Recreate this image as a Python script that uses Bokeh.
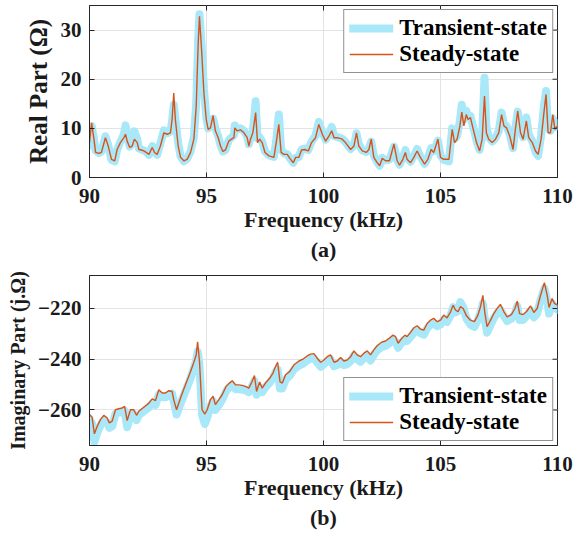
from bokeh.plotting import figure
from bokeh.layouts import column
from bokeh.models import Range1d, FixedTicker
from bokeh.embed import file_html
from bokeh.resources import INLINE

# ---------------- data ----------------
freq_a = [90.00, 90.09, 90.19, 90.26, 90.40, 90.51, 90.68, 90.80, 90.94, 91.08,
          91.18, 91.32, 91.47, 91.54, 91.61, 91.72, 91.82, 91.92, 92.04, 92.11,
          92.22, 92.32, 92.42, 92.54, 92.68, 92.78, 92.89, 93.03, 93.18, 93.32,
          93.46, 93.53, 93.60, 93.67, 93.79, 93.89, 94.03, 94.17, 94.32, 94.46,
          94.56, 94.64, 94.70, 94.79, 94.89, 94.99, 95.07, 95.17, 95.28, 95.38,
          95.50, 95.60, 95.70, 95.81, 95.95, 96.07, 96.17, 96.21, 96.31, 96.45,
          96.60, 96.74, 96.81, 96.88, 96.98, 97.10, 97.18, 97.27, 97.38, 97.50,
          97.67, 97.88, 97.98, 98.09, 98.19, 98.31, 98.45, 98.56, 98.71, 98.81,
          98.95, 99.06, 99.19, 99.35, 99.49, 99.66, 99.80, 99.95, 100.09, 100.23,
          100.35, 100.45, 100.59, 100.80, 100.94, 101.16, 101.30, 101.41, 101.51, 101.66,
          101.83, 101.94, 102.04, 102.15, 102.30, 102.40, 102.51, 102.65, 102.82, 103.01,
          103.15, 103.25, 103.39, 103.50, 103.57, 103.72, 103.86, 104.00, 104.14, 104.32,
          104.46, 104.60, 104.71, 104.89, 105.00, 105.14, 105.36, 105.50, 105.60, 105.71,
          105.83, 105.91, 106.00, 106.10, 106.18, 106.28, 106.40, 106.54, 106.67, 106.78,
          106.88, 106.96, 107.06, 107.21, 107.35, 107.49, 107.61, 107.71, 107.82, 107.96,
          108.10, 108.20, 108.30, 108.42, 108.53, 108.67, 108.77, 108.92, 109.06, 109.17,
          109.30, 109.42, 109.51, 109.60, 109.70, 109.80, 109.89, 110.00]

real_steady = [7.1, 11.1, 7.8, 5.1, 4.9, 5.1, 8.1, 6.4, 3.7, 3.4,
               5.7, 7.1, 8.1, 8.8, 7.4, 6.1, 6.4, 7.8, 7.1, 5.7,
               5.6, 5.4, 5.1, 4.7, 6.1, 5.1, 4.7, 6.4, 9.1, 8.8,
               9.1, 11.8, 17.2, 11.8, 6.4, 4.1, 3.4, 3.7, 5.1, 7.8,
               14.5, 26.7, 32.8, 26.0, 17.2, 11.8, 9.8, 10.1, 12.6, 9.5,
               8.1, 6.4, 5.3, 5.6, 7.4, 7.8, 8.1, 10.1, 9.5, 9.7,
               9.1, 8.1, 6.4, 7.8, 9.1, 13.2, 7.1, 7.8, 7.1, 5.1,
               4.4, 4.1, 7.1, 10.8, 5.1, 4.7, 4.7, 3.9, 3.0, 4.1,
               4.1, 5.6, 5.7, 5.4, 7.1, 8.1, 10.8, 8.8, 7.4, 8.4,
               9.5, 8.1, 8.1, 7.8, 7.1, 5.7, 6.4, 9.1, 6.4, 5.4,
               5.1, 5.7, 7.8, 4.1, 3.0, 2.4, 3.9, 3.4, 3.4, 6.8,
               3.4, 2.5, 3.7, 5.1, 3.7, 3.0, 4.1, 5.4, 4.1, 2.7,
               3.7, 5.7, 5.1, 7.8, 4.1, 3.7, 3.7, 9.8, 7.1, 7.8,
               10.5, 13.3, 10.5, 12.8, 11.8, 12.2, 9.8, 7.1, 5.4, 7.8,
               16.6, 9.1, 7.8, 7.1, 7.8, 9.1, 12.8, 10.5, 10.1, 8.4,
               5.7, 9.8, 13.5, 9.1, 7.8, 11.5, 8.1, 7.1, 5.4, 4.7,
               7.8, 13.2, 16.9, 9.1, 9.1, 12.8, 9.8, 10.5]

real_transient = [6.5, 10.5, 8.0, 5.5, 5.0, 5.3, 8.4, 6.6, 3.6, 3.3,
                  5.6, 7.3, 8.8, 10.6, 8.5, 6.3, 7.0, 9.4, 7.8, 5.9,
                  5.7, 5.5, 5.2, 4.6, 6.4, 5.3, 4.6, 7.0, 9.6, 9.0,
                  9.4, 11.5, 14.8, 12.0, 7.0, 4.3, 3.3, 3.8, 5.3, 8.2,
                  15.0, 27.5, 33.2, 27.0, 18.0, 12.3, 10.0, 10.5, 12.0, 10.0,
                  8.4, 6.6, 5.3, 5.6, 7.6, 8.2, 8.6, 10.6, 9.8, 10.0,
                  9.5, 8.4, 6.8, 8.0, 9.4, 15.5, 8.0, 8.2, 7.3, 5.3,
                  4.5, 4.2, 7.5, 12.8, 5.8, 4.9, 4.8, 3.9, 3.0, 4.0,
                  4.2, 5.7, 5.9, 5.6, 7.3, 8.5, 11.3, 9.2, 7.7, 8.8,
                  10.3, 8.5, 8.2, 7.9, 7.2, 5.8, 6.5, 9.0, 6.8, 5.5,
                  5.2, 5.9, 7.3, 4.5, 3.1, 2.4, 4.0, 3.5, 3.6, 6.3,
                  3.6, 2.6, 4.0, 5.6, 4.2, 3.2, 4.4, 5.8, 4.3, 2.8,
                  4.0, 6.0, 5.4, 7.5, 4.5, 3.6, 3.3, 10.0, 7.8, 8.5,
                  11.5, 14.8, 11.8, 13.6, 12.5, 12.5, 10.2, 7.5, 5.6, 8.5,
                  20.3, 10.5, 8.2, 7.3, 8.0, 9.5, 13.2, 10.8, 10.5, 8.8,
                  6.0, 10.2, 13.4, 9.6, 8.2, 12.2, 8.8, 7.4, 5.2, 4.4,
                  8.5, 14.5, 17.6, 10.0, 9.5, 12.0, 10.2, 11.0]

freq_b = [90.00, 90.11, 90.21, 90.33, 90.47, 90.61, 90.75, 90.85, 90.97, 91.11,
          91.25, 91.40, 91.50, 91.61, 91.75, 91.89, 92.01, 92.11, 92.32, 92.54,
          92.68, 92.82, 92.96, 93.11, 93.25, 93.39, 93.53, 93.60, 93.72, 93.89,
          94.10, 94.32, 94.46, 94.56, 94.62, 94.70, 94.81, 94.93, 95.03, 95.17,
          95.28, 95.38, 95.53, 95.67, 95.84, 95.98, 96.10, 96.24, 96.38, 96.52,
          96.67, 96.81, 96.95, 97.05, 97.14, 97.27, 97.38, 97.52, 97.70, 97.84,
          97.95, 98.04, 98.14, 98.24, 98.38, 98.56, 98.74, 98.95, 99.12, 99.30,
          99.45, 99.59, 99.73, 99.88, 100.02, 100.16, 100.30, 100.45, 100.59, 100.73,
          100.87, 101.01, 101.16, 101.30, 101.44, 101.58, 101.73, 101.87, 102.01, 102.15,
          102.30, 102.48, 102.65, 102.80, 102.97, 103.08, 103.19, 103.34, 103.48, 103.57,
          103.72, 103.86, 104.00, 104.14, 104.29, 104.43, 104.57, 104.71, 104.86, 105.00,
          105.14, 105.28, 105.43, 105.54, 105.64, 105.75, 105.85, 105.97, 106.11, 106.28,
          106.45, 106.60, 106.71, 106.81, 106.89, 106.99, 107.14, 107.28, 107.42, 107.56,
          107.71, 107.85, 108.03, 108.18, 108.28, 108.38, 108.53, 108.67, 108.85, 108.99,
          109.13, 109.27, 109.44, 109.56, 109.64, 109.77, 109.87, 110.00]

imag_steady = [-261.8, -262.9, -269.4, -266.4, -263.8, -262.1, -263.1, -265.1, -264.4, -259.9,
               -259.5, -259.2, -258.6, -264.2, -259.9, -259.9, -262.1, -260.5, -258.9, -257.3,
               -255.6, -256.3, -252.0, -253.3, -253.3, -252.4, -252.7, -256.0, -259.9, -255.3,
               -250.1, -244.8, -241.2, -238.3, -233.1, -240.9, -259.9, -261.6, -259.9, -255.9,
               -254.6, -257.9, -255.9, -254.0, -250.7, -249.4, -248.5, -250.1, -250.1, -250.3,
               -250.7, -251.4, -248.8, -246.4, -252.7, -249.0, -251.4, -249.4, -247.5, -245.5,
               -242.9, -241.2, -248.8, -249.4, -246.1, -244.8, -242.2, -240.7, -240.0, -238.7,
               -238.0, -237.8, -239.6, -241.2, -240.3, -239.0, -238.3, -241.2, -240.7, -239.3,
               -240.7, -240.3, -239.0, -236.7, -238.3, -239.0, -237.6, -236.7, -238.3, -236.3,
               -234.6, -233.3, -232.8, -231.8, -230.5, -231.1, -233.7, -231.8, -230.5, -231.1,
               -229.4, -227.6, -226.8, -228.1, -228.5, -225.9, -224.6, -223.9, -225.2, -224.6,
               -222.6, -223.7, -221.3, -218.7, -220.6, -221.3, -219.3, -220.0, -222.9, -224.6,
               -225.2, -222.6, -219.3, -214.8, -221.3, -227.2, -224.6, -222.0, -220.0, -218.4,
               -221.3, -223.3, -222.4, -220.0, -217.1, -222.0, -222.4, -221.3, -219.0, -221.6,
               -220.0, -215.0, -209.8, -214.8, -219.6, -216.1, -218.0, -218.7]

imag_transient = [-263.5, -265.5, -272.5, -269.0, -266.0, -264.0, -265.0, -267.0, -266.5, -261.5,
                  -261.0, -260.8, -260.3, -266.8, -262.0, -261.5, -264.0, -262.0, -260.5, -259.0,
                  -257.3, -258.0, -254.0, -255.0, -255.0, -254.0, -253.5, -256.5, -261.8, -257.5,
                  -252.5, -247.5, -243.5, -240.5, -237.0, -242.0, -262.0, -265.5, -263.0, -258.5,
                  -256.5, -260.0, -258.0, -256.0, -252.5, -251.0, -250.3, -251.8, -251.8, -252.0,
                  -252.3, -253.0, -250.5, -248.5, -254.0, -251.0, -253.0, -251.0, -249.3, -247.5,
                  -245.0, -244.0, -251.5, -251.5, -248.0, -246.5, -244.0, -242.5, -241.8, -240.5,
                  -239.8, -239.5, -241.3, -243.0, -242.0, -240.8, -240.0, -242.8, -242.3, -241.0,
                  -242.3, -242.0, -240.8, -238.5, -240.0, -241.0, -239.5, -238.5, -240.5, -238.3,
                  -236.5, -235.3, -234.8, -233.8, -232.3, -233.0, -235.5, -233.5, -232.3, -232.8,
                  -231.3, -229.5, -228.5, -229.8, -230.3, -227.8, -226.5, -225.8, -227.0, -226.3,
                  -224.3, -225.3, -222.8, -219.5, -221.5, -221.0, -217.5, -219.5, -224.0, -226.5,
                  -227.3, -224.5, -221.5, -218.0, -224.0, -229.5, -226.5, -223.8, -221.8, -220.5,
                  -223.0, -225.0, -224.0, -222.0, -219.0, -224.5, -224.5, -223.0, -220.8, -223.5,
                  -222.0, -216.8, -212.0, -217.0, -222.0, -218.0, -219.5, -220.5]

x_ticks = [90, 95, 100, 105, 110]
real_ticks = [0, 10, 20, 30]
imag_ticks = [-260, -240, -220]
series_names = ["Transient-state", "Steady-state"]

# ---------------- styling ----------------
FONT = "Liberation Serif"
FRAME = "#262626"
GRID = "#e3e3e3"
CYAN = "#a9e8f8"
ORANGE = "#d95319"
TICK_FS = "21px"
LABEL_FS = "22px"
LEG_FS = "23px"
TICK_LEN = 5          # px, inward ticks
FRAME_W = 468         # px, plotting-frame width
FIG_W = 580
BORDER_L = 89
BORDER_R = FIG_W - BORDER_L - FRAME_W


def style(p, xr, yr, frame_h, yticks, ylabel, ylabel_fs, sub):
    p.outline_line_color = FRAME
    p.outline_line_width = 1
    p.background_fill_color = "white"
    p.border_fill_color = "white"
    p.xgrid.ticker = FixedTicker(ticks=x_ticks)
    p.ygrid.ticker = FixedTicker(ticks=yticks)
    for g in (p.xgrid, p.ygrid):
        g.grid_line_color = GRID
        g.grid_line_width = 1
    for ax, tk in ((p.xaxis[0], x_ticks), (p.yaxis[0], yticks)):
        ax.ticker = FixedTicker(ticks=tk)
        ax.axis_line_color = FRAME
        ax.major_tick_line_color = FRAME
        ax.major_tick_in = TICK_LEN
        ax.major_tick_out = 0
        ax.minor_tick_line_color = None
        ax.major_label_text_font = FONT
        ax.major_label_text_font_size = TICK_FS
        ax.major_label_text_font_style = "bold"
        ax.major_label_text_color = "#1a1a1a"
        ax.axis_label_text_font = FONT
        ax.axis_label_text_font_size = LABEL_FS
        ax.axis_label_text_font_style = "bold"
        ax.axis_label_text_color = "#1a1a1a"
    p.xaxis[0].axis_label = "Frequency (kHz)\n" + sub
    p.xaxis[0].axis_label_text_line_height = 1.2
    p.xaxis[0].major_label_standoff = 11
    p.xaxis[0].axis_label_standoff = 1
    p.yaxis[0].axis_label = ylabel
    p.yaxis[0].axis_label_text_font_size = ylabel_fs
    p.yaxis[0].major_label_standoff = 8
    p.yaxis[0].axis_label_standoff = 6
    # inward ticks on the top and right edges of the box
    dy = (yr[1] - yr[0]) * TICK_LEN / frame_h
    dx = (xr[1] - xr[0]) * TICK_LEN / FRAME_W
    p.segment(x0=x_ticks, y0=[yr[1]] * len(x_ticks), x1=x_ticks,
              y1=[yr[1] - dy] * len(x_ticks), line_color=FRAME, line_width=1)
    p.segment(x0=[xr[1]] * len(yticks), y0=yticks, x1=[xr[1] - dx] * len(yticks),
              y1=yticks, line_color=FRAME, line_width=1)
    lg = p.legend[0]
    lg.label_text_font = FONT
    lg.label_text_font_size = LEG_FS
    lg.label_text_font_style = "bold"
    lg.label_text_color = "black"
    lg.border_line_color = FRAME
    lg.border_line_width = 1
    lg.background_fill_alpha = 1.0
    lg.margin = 4
    lg.padding = 5
    lg.spacing = 0
    lg.glyph_width = 44
    lg.label_height = 24
    lg.glyph_height = 24
    lg.label_standoff = 6


xr = (90, 110)
yr_a = (0, 35)
yr_b = (-274, -207)
FH_A = 172
FH_B = 170
H_A = 270
H_B = 264

# ---------------- figure (a) ----------------
pa = figure(width=FIG_W, height=H_A, output_backend="svg", toolbar_location=None,
            x_range=Range1d(*xr), y_range=Range1d(*yr_a),
            min_border_left=BORDER_L, min_border_right=BORDER_R, min_border_top=5,
            min_border_bottom=H_A - 5 - FH_A)
pa.line(freq_a, real_transient, line_color=CYAN, line_width=8,
        line_join="round", line_cap="round", legend_label=series_names[0])
pa.line(freq_a, real_steady, line_color=ORANGE, line_width=1.4,
        legend_label=series_names[1])
pa.legend.location = "top_right"
style(pa, xr, yr_a, FH_A, real_ticks, "Real Part (Ω)", "25px", "(a)")

# ---------------- figure (b) ----------------
pb = figure(width=FIG_W, height=H_B, output_backend="svg", toolbar_location=None,
            x_range=Range1d(*xr), y_range=Range1d(*yr_b),
            min_border_left=BORDER_L, min_border_right=BORDER_R, min_border_top=5,
            min_border_bottom=H_B - 5 - FH_B)
pb.line(freq_b, imag_transient, line_color=CYAN, line_width=8,
        line_join="round", line_cap="round", legend_label=series_names[0])
pb.line(freq_b, imag_steady, line_color=ORANGE, line_width=1.4,
        legend_label=series_names[1])
pb.legend.location = "bottom_right"
style(pb, xr, yr_b, FH_B, imag_ticks, "Imaginary Part (j.Ω)", "20px", "(b)")

layout = column(pa, pb, spacing=0)
open("out.html", "w").write(file_html(layout, INLINE))
